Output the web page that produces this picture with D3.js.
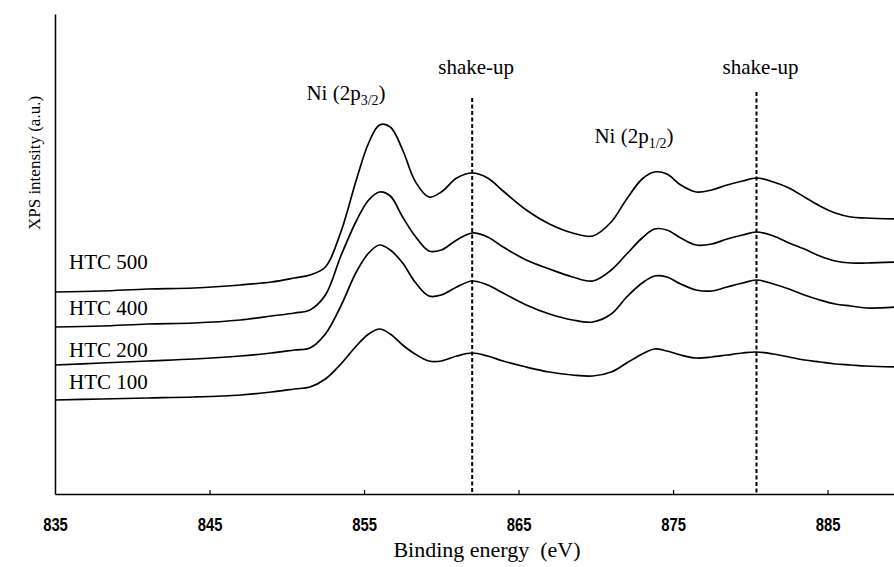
<!DOCTYPE html>
<html>
<head>
<meta charset="utf-8">
<script src="https://cdn.jsdelivr.net/npm/d3@7"></script>
<style>
  html, body { margin: 0; padding: 0; background: #fff; }
  svg { display: block; }
  .serif { font-family: "Liberation Serif", "DejaVu Serif", serif; fill: #000; }
  .tick text { font-family: "Liberation Sans", Arial, sans-serif; font-weight: bold; }
</style>
</head>
<body>
<div id="chart"></div>
<script>
// binding energy grid (eV)
const energies = [835, 838, 841, 844, 847, 849, 850.5, 851.5, 852.5, 853.5, 854.5, 855.3, 856, 856.7, 857.5,
    858.3, 859.2, 860, 861, 862, 863, 864, 865.5, 867, 868.5, 869.8, 871, 872, 873, 873.8, 874.6, 875.5,
    876.5, 877.5, 878.5, 879.5, 880.4, 881.5, 882.5, 883.5, 884.5, 885.5, 886.5, 887.5, 889.5];

// intensities (a.u.), stacked as in the figure
const htc500 = [202, 203, 205, 206, 209, 212, 216, 219, 227, 262, 314, 351, 369, 367, 344,
    313, 297, 302, 316, 321, 316, 303, 284, 270, 261, 258, 272, 295, 315, 322, 320, 309,
    302, 304, 309, 313, 316, 312, 306, 297, 288, 281, 277, 276, 275];
const htc400 = [167, 168, 170, 171, 174, 178, 181, 184, 199, 238, 273, 294, 302, 298, 277,
    258, 243, 244, 254, 261, 257, 247, 234, 225, 217, 213, 224, 240, 256, 265, 264, 256,
    249, 250, 255, 259, 262, 258, 251, 245, 238, 233, 231, 231, 232];
const htc200 = [129, 131, 133, 135, 138, 141, 144, 146, 160, 188, 222, 241, 249, 244, 231,
    212, 198, 199, 207, 213, 209, 201, 189, 180, 174, 172, 180, 197, 211, 218, 217, 210,
    204, 203, 207, 211, 214, 210, 205, 199, 194, 190, 188, 186, 187];
const htc100 = [94, 95, 96, 97, 99, 102, 105, 107, 115, 130, 148, 160, 165, 160, 149,
    140, 133, 133, 138, 141, 138, 133, 127, 122, 119, 118, 122, 131, 140, 145, 143, 139,
    136, 137, 139, 141, 142, 140, 137, 134, 132, 130, 129, 128, 127];

const seriesNames = ["HTC 500", "HTC 400", "HTC 200", "HTC 100"];
const xTicks = [835, 845, 855, 865, 875, 885];
const shakeUp = [862, 880.4];

const W = 894, H = 567;
const svg = d3.select("#chart").append("svg").attr("width", W).attr("height", H);

const x = d3.scaleLinear().domain([835, 889.3]).range([55, W]);
const y = d3.scaleLinear().domain([0, 480]).range([494, 14]);

// axes
svg.append("g")
    .attr("transform", "translate(0," + y(0) + ")")
    .call(d3.axisBottom(x).tickValues(xTicks).tickSizeInner(-4).tickSizeOuter(0).tickPadding(24).tickFormat(d3.format("d")))
    .call(g => g.select(".domain").attr("stroke-width", 1.5))
    .call(g => g.selectAll(".tick line").attr("stroke-width", 1.2))
    .call(g => g.selectAll(".tick text").attr("font-size", 19).attr("fill", "#000")
        .attr("transform", "scale(0.78,1)"))
    .call(g => g.selectAll(".tick").filter(d => d === 835).select("line").remove());

svg.append("g")
    .attr("transform", "translate(" + x(835) + ",0)")
    .call(d3.axisLeft(y).tickValues([]).tickSizeOuter(0))
    .call(g => g.select(".domain").attr("stroke-width", 1.5));

// shake-up markers
svg.selectAll("line.shake")
    .data(shakeUp)
    .enter().append("line")
    .attr("class", "shake")
    .attr("x1", d => x(d)).attr("x2", d => x(d))
    .attr("y1", (d, i) => i === 0 ? 98 : 92)
    .attr("y2", y(0))
    .attr("stroke", "#000")
    .attr("stroke-width", 2)
    .attr("stroke-dasharray", "4,2.5");

// spectra
const series = [htc500, htc400, htc200, htc100];
const line = d3.line()
    .x((d, i) => x(energies[i]))
    .y(d => y(d))
    .curve(d3.curveCatmullRom);

series.forEach(vals => {
    svg.append("path")
        .datum(vals)
        .attr("fill", "none")
        .attr("stroke", "#000")
        .attr("stroke-width", 1.7)
        .attr("d", line);
});

// series labels
const labelY = [269, 315, 357, 389];
svg.selectAll("text.series")
    .data(seriesNames)
    .enter().append("text")
    .attr("class", "serif series")
    .attr("x", 69)
    .attr("y", (d, i) => labelY[i])
    .attr("font-size", 21)
    .text(d => d);

// peak annotations
function peakLabel(cx, cy, sub) {
    const t = svg.append("text").attr("class", "serif").attr("x", cx).attr("y", cy)
        .attr("font-size", 21).attr("text-anchor", "middle");
    t.append("tspan").text("Ni (2p");
    t.append("tspan").attr("font-size", 14).attr("dy", 5).text(sub);
    t.append("tspan").attr("dy", -5).text(")");
}
peakLabel(346, 100, "3/2");
peakLabel(634, 143, "1/2");

shakeUp.forEach(d => {
    svg.append("text").attr("class", "serif")
        .attr("x", x(d) + 4).attr("y", 74)
        .attr("font-size", 21).attr("text-anchor", "middle")
        .text("shake-up");
});

// axis titles
svg.append("text").attr("class", "serif")
    .attr("x", 487).attr("y", 557)
    .attr("font-size", 22).attr("text-anchor", "middle")
    .style("white-space", "pre")
    .text("Binding energy  (eV)");

svg.append("text").attr("class", "serif")
    .attr("transform", "translate(40,163) rotate(-90)")
    .attr("font-size", 17).attr("text-anchor", "middle")
    .text("XPS intensity (a.u.)");
</script>
</body>
</html>
